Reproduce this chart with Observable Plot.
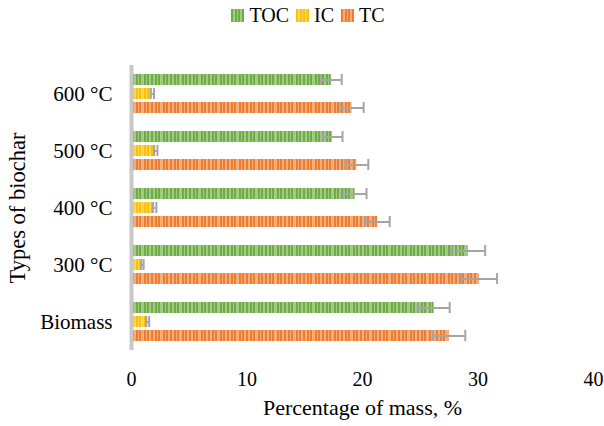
<!DOCTYPE html>
<html>
<head>
<meta charset="utf-8">
<script src="https://cdn.jsdelivr.net/npm/d3@7"></script>
<script src="https://cdn.jsdelivr.net/npm/@observablehq/plot@0.6"></script>
<style>
  html, body { margin: 0; padding: 0; background: #fff; }
  body { width: 604px; height: 426px; overflow: hidden; font-family: 'Liberation Serif', serif; }
  #legend { height: 30px; display: flex; justify-content: center; align-items: center; gap: 7px; padding-left: 12px; box-sizing: border-box; font-size: 20px; color: #000; }
  .item { display: flex; align-items: center; gap: 5px; }
  .sw { width: 13px; height: 13px; }
  g[aria-label="x-axis label"] text { font-size: 22px; }
  g[aria-label="fy-axis label"] text { font-size: 22.5px; }
  g[aria-label="fy-axis tick label"] text { font-size: 21px; }
</style>
</head>
<body>
<div id="legend"></div>
<div id="chart"></div>
<script>
const categories = ["600 °C", "500 °C", "400 °C", "300 °C", "Biomass"];
const series = ["TOC", "IC", "TC"];
const tocValues = [17.3, 17.4, 19.35, 29.15, 26.2];
const tocErrors = [0.9, 0.87, 1.0, 1.47, 1.35];
const icValues = [1.8, 2.1, 2.0, 0.95, 1.4];
const icErrors = [0.15, 0.15, 0.15, 0.1, 0.13];
const tcValues = [19.1, 19.5, 21.3, 30.1, 27.5];
const tcErrors = [1.0, 1.0, 1.05, 1.55, 1.4];
const xTicks = [0, 10, 20, 30, 40];

const baseColors = ["#6fac46", "#ffc000", "#ed7d31"];
const lightColors = ["#a3cb88", "#ffd659", "#f5ad7c"];
const patternIds = ["patTOC", "patIC", "patTC"];

const valueSets = [tocValues, icValues, tcValues];
const errorSets = [tocErrors, icErrors, tcErrors];
const data = [];
categories.forEach((c, i) => {
  series.forEach((s, j) => {
    data.push({cat: c, series: s, value: valueSets[j][i], err: errorSets[j][i]});
  });
});

const chart = Plot.plot({
  width: 604,
  height: 396,
  marginLeft: 131,
  marginRight: 11,
  marginTop: 34,
  marginBottom: 75,
  style: {fontFamily: "'Liberation Serif', serif", fontSize: "20px", color: "#000", background: "white"},
  x: {domain: [0, 40], ticks: xTicks, tickSize: 0, tickPadding: 21, label: "Percentage of mass, %", labelArrow: "none", labelAnchor: "center", labelOffset: 64},
  fy: {domain: categories, padding: 0, axis: "left", tickSize: 0, tickPadding: 19, label: "Types of biochar", labelArrow: "none", labelAnchor: "center", labelOffset: 122},
  y: {domain: series, axis: null, paddingInner: 0.23, paddingOuter: 0.6},
  color: {domain: series, range: patternIds.map(id => `url(#${id})`)},
  marks: [
    Plot.barX(data, {fy: "cat", y: "series", x: "value", fill: "series"}),
    Plot.ruleY(data, {fy: "cat", y: "series", x1: d => d.value - d.err, x2: d => d.value + d.err, stroke: "#a5a5a5", strokeWidth: 2}),
    Plot.tickX(data, {fy: "cat", y: "series", x: d => d.value - d.err, stroke: "#a5a5a5", strokeWidth: 2}),
    Plot.tickX(data, {fy: "cat", y: "series", x: d => d.value + d.err, stroke: "#a5a5a5", strokeWidth: 2}),
    Plot.ruleX([0], {stroke: "#c8c8c8", strokeWidth: 4})
  ]
});

// stripe patterns
const stripes = [[1, 2], [5, 1], [8, 3], [13, 1], [16, 2]];
const defs = d3.select(chart).insert("defs", ":first-child");
patternIds.forEach((id, k) => {
  const p = defs.append("pattern").attr("id", id).attr("patternUnits", "userSpaceOnUse")
    .attr("width", 19).attr("height", 40);
  p.append("rect").attr("width", 19).attr("height", 40).attr("fill", baseColors[k]);
  stripes.forEach(([x, w]) => p.append("rect").attr("x", x).attr("width", w).attr("height", 40).attr("fill", lightColors[k]));
});
document.getElementById("chart").appendChild(chart);

// legend
const legend = d3.select("#legend");
series.forEach((s, k) => {
  const it = legend.append("div").attr("class", "item");
  const sv = it.append("svg").attr("class", "sw").attr("width", 13).attr("height", 13);
  sv.append("rect").attr("width", 13).attr("height", 13).attr("fill", baseColors[k]);
  [[2, 2], [6, 1], [9, 2]].forEach(([x, w]) => sv.append("rect").attr("x", x).attr("width", w).attr("height", 13).attr("fill", lightColors[k]));
  it.append("span").text(s);
});
</script>
</body>
</html>
